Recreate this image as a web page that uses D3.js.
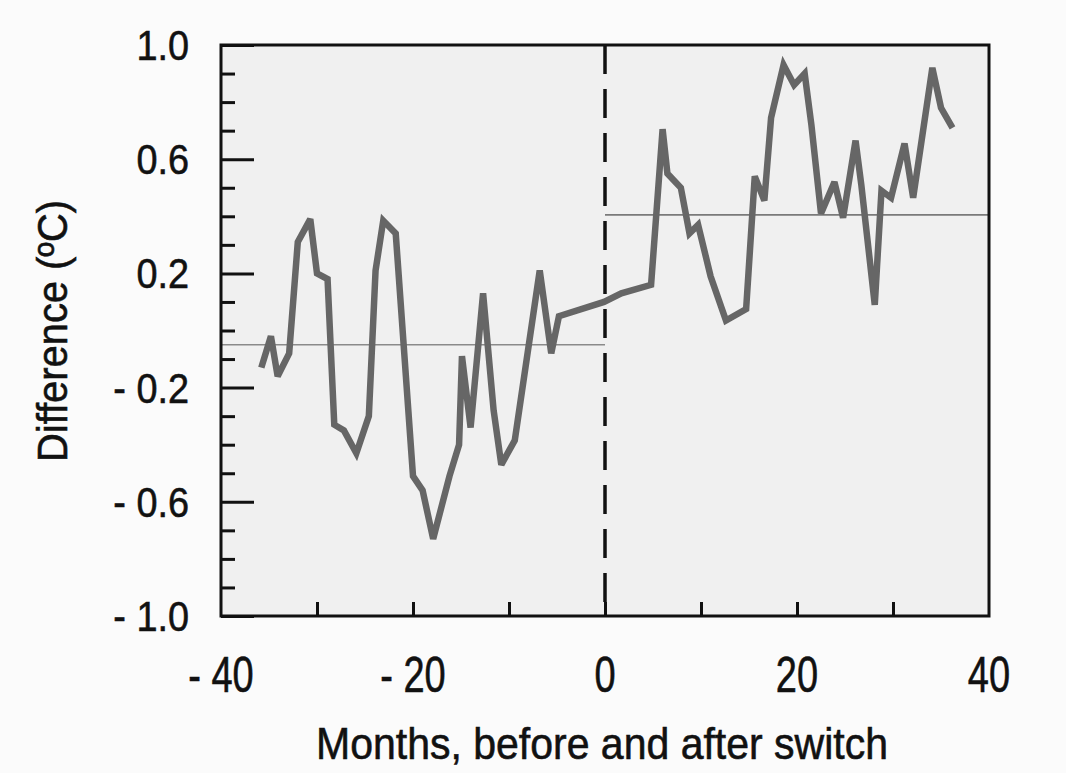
<!DOCTYPE html>
<html>
<head>
<meta charset="utf-8">
<script src="https://cdn.jsdelivr.net/npm/d3@7"></script>
<style>
  body { margin: 0; background: #fbfbfb; }
  text { font-family: "Liberation Sans", Arial, sans-serif; fill: #111; stroke: #111; stroke-width: 0.6px; }
</style>
</head>
<body>
<div id="my_dataviz"></div>
<script>
// Data
var months = [-35.8, -34.8, -34.1, -32.9, -32.0, -30.7, -30.0, -28.9, -28.2, -27.2, -25.9, -24.6,
  -23.9, -23.1, -21.8, -20.0, -19.0, -17.9, -16.2, -15.2, -14.9, -14.0, -12.7, -11.6, -10.8,
  -9.4, -6.8, -5.6, -4.8, -0.1, 1.7, 4.8, 6.0, 6.5, 7.9, 8.8, 9.7, 11.0, 12.6, 14.7, 15.6,
  16.6, 17.3, 18.6, 19.7, 20.8, 21.5, 22.5, 23.9, 24.8, 26.1, 26.7, 28.1, 28.8, 29.8, 31.2,
  32.1, 34.1, 35.0, 36.2];
var diffs = [-0.13, -0.02, -0.16, -0.08, 0.31, 0.39, 0.20, 0.18, -0.33, -0.35, -0.43, -0.30,
  0.21, 0.385, 0.34, -0.51, -0.56, -0.73, -0.51, -0.40, -0.09, -0.34, 0.13, -0.28, -0.47,
  -0.385, 0.21, -0.08, 0.05, 0.10, 0.13, 0.16, 0.705, 0.55, 0.50, 0.34, 0.37, 0.19, 0.035,
  0.075, 0.54, 0.455, 0.745, 0.93, 0.86, 0.90, 0.72, 0.41, 0.52, 0.395, 0.665, 0.51, 0.09,
  0.49, 0.465, 0.655, 0.465, 0.92, 0.78, 0.71];

// Mean before and after the switch
var meanBefore = -0.05;
var meanAfter = 0.405;

var yTickValues = [1.0, 0.6, 0.2, -0.2, -0.6, -1.0];
var yTickLabels = ["1.0", "0.6", "0.2", "- 0.2", "- 0.6", "- 1.0"];
var xTickValues = [-40, -20, 0, 20, 40];
var xTickLabels = ["- 40", "- 20", "0", "20", "40"];

var width = 1066, height = 773;
var margin = { top: 45, right: 77, bottom: 157, left: 221 };

var svg = d3.select("#my_dataviz")
  .append("svg")
  .attr("width", width)
  .attr("height", height);

var x = d3.scaleLinear()
  .domain([-40, 40])
  .range([margin.left, width - margin.right]);

var y = d3.scaleLinear()
  .domain([-1, 1])
  .range([height - margin.bottom, margin.top]);

// squeeze text horizontally like the condensed face of the original
function condense(sel, k) {
  sel.each(function() {
    var w = this.getComputedTextLength();
    d3.select(this)
      .attr("textLength", w * k)
      .attr("lengthAdjust", "spacingAndGlyphs");
  });
}

// Plot area background
svg.append("rect")
  .attr("x", x(-40))
  .attr("y", y(1))
  .attr("width", x(40) - x(-40))
  .attr("height", y(-1) - y(1))
  .style("fill", "#f0f0f0");

// Mean lines
svg.append("line")
  .attr("x1", x(-40)).attr("x2", x(0))
  .attr("y1", y(meanBefore)).attr("y2", y(meanBefore))
  .style("stroke", "#8a8a8a")
  .style("stroke-width", 1.6);
svg.append("line")
  .attr("x1", x(0)).attr("x2", x(40))
  .attr("y1", y(meanAfter)).attr("y2", y(meanAfter))
  .style("stroke", "#7a7a7a")
  .style("stroke-width", 1.6);

// Dashed line at the switch
svg.append("line")
  .attr("x1", x(0)).attr("x2", x(0))
  .attr("y1", y(1)).attr("y2", y(-1))
  .style("stroke", "#111")
  .style("stroke-width", 3.5)
  .style("stroke-dasharray", "29,15");

// Left axis: inward ticks every 0.1, long ones at labels
var yAxis = d3.axisRight(y)
  .tickValues(d3.range(-10, 11).map(function(d) { return d / 10; }))
  .tickSize(0)
  .tickFormat("");
var gy = svg.append("g")
  .attr("transform", "translate(" + x(-40) + ",0)")
  .call(yAxis);
gy.select(".domain").remove();
gy.selectAll(".tick line")
  .attr("x2", function(d) {
    return yTickValues.some(function(v) { return Math.abs(v - d) < 1e-6; }) ? 33 : 14;
  })
  .style("stroke", "#111")
  .style("stroke-width", 3);

// Bottom axis: inward ticks every 10 months
var xAxis = d3.axisTop(x)
  .tickValues(d3.range(-30, 40, 10))
  .tickSize(14)
  .tickFormat("");
var gx = svg.append("g")
  .attr("transform", "translate(0," + y(-1) + ")")
  .call(xAxis);
gx.select(".domain").remove();
gx.selectAll(".tick line")
  .style("stroke", "#111")
  .style("stroke-width", 3);

// Frame
svg.append("rect")
  .attr("x", x(-40))
  .attr("y", y(1))
  .attr("width", x(40) - x(-40))
  .attr("height", y(-1) - y(1))
  .style("fill", "none")
  .style("stroke", "#111")
  .style("stroke-width", 3);

// Data line
var line = d3.line()
  .x(function(d, i) { return x(months[i]); })
  .y(function(d) { return y(d); });

svg.append("path")
  .datum(diffs)
  .attr("d", line)
  .style("fill", "none")
  .style("stroke", "#666")
  .style("stroke-width", 6.5)
  .style("stroke-linejoin", "miter")
  .style("stroke-miterlimit", 3);

// Tick labels
svg.selectAll(".ylab")
  .data(yTickValues)
  .enter()
  .append("text")
  .attr("class", "ylab")
  .attr("x", 189)
  .attr("y", function(d) { return y(d) + 15; })
  .attr("text-anchor", "end")
  .style("font-size", "43px")
  .text(function(d, i) { return yTickLabels[i]; })
  .call(condense, 0.88);

svg.selectAll(".xlab")
  .data(xTickValues)
  .enter()
  .append("text")
  .attr("class", "xlab")
  .attr("x", function(d) { return x(d); })
  .attr("y", 692)
  .attr("text-anchor", "middle")
  .style("font-size", "50px")
  .text(function(d, i) { return xTickLabels[i]; })
  .call(condense, 0.76);

// Axis titles
svg.append("text")
  .attr("x", 602)
  .attr("y", 759)
  .attr("text-anchor", "middle")
  .attr("textLength", 572)
  .attr("lengthAdjust", "spacingAndGlyphs")
  .style("font-size", "45px")
  .text("Months, before and after switch");

svg.append("text")
  .attr("transform", "translate(67,331) rotate(-90)")
  .attr("text-anchor", "middle")
  .attr("textLength", 262)
  .attr("lengthAdjust", "spacingAndGlyphs")
  .style("font-size", "42px")
  .text("Difference (ºC)");
</script>
</body>
</html>
